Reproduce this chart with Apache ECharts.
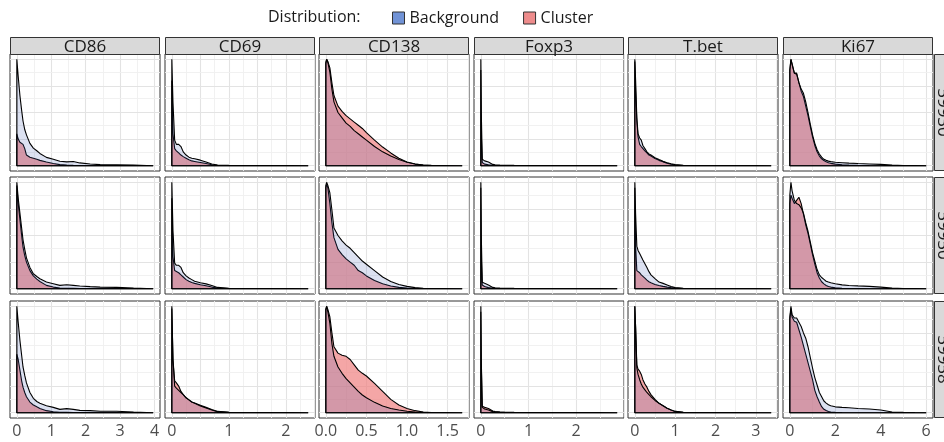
<!DOCTYPE html>
<html>
<head>
<meta charset="utf-8">
<script src="https://cdn.jsdelivr.net/npm/echarts@6/dist/echarts.min.js"></script>
<style>
  html, body { margin: 0; padding: 0; background: #ffffff; }
  #chart { width: 944px; height: 442px; }
</style>
</head>
<body>
<div id="chart"></div>
<script>
// Facet labels
const markers = ['CD86', 'CD69', 'CD138', 'Foxp3', 'T.bet', 'Ki67'];
const samples = ['59930', '59950', '59958'];

// ---- CD86: evaluation grid and scaled densities (one row per sample)
const xCD86 = [0, 0.04, 0.09, 0.14, 0.18, 0.23, 0.28, 0.38, 0.48, 0.58, 0.67, 0.86, 1.06, 1.25, 1.45, 1.64, 1.83, 2.13, 2.42, 2.9, 3.39, 3.96];
const bgCD86 = [
  [1.0, 0.84, 0.66, 0.52, 0.42, 0.34, 0.29, 0.21, 0.165, 0.14, 0.115, 0.078, 0.06, 0.042, 0.036, 0.04, 0.026, 0.016, 0.01, 0.008, 0.005, 0],
  [1.0, 0.85, 0.71, 0.57, 0.46, 0.37, 0.29, 0.2, 0.14, 0.115, 0.093, 0.062, 0.046, 0.031, 0.037, 0.031, 0.025, 0.019, 0.015, 0.012, 0.006, 0],
  [1.0, 0.85, 0.68, 0.54, 0.43, 0.35, 0.28, 0.19, 0.135, 0.105, 0.088, 0.066, 0.05, 0.031, 0.038, 0.031, 0.022, 0.019, 0.013, 0.013, 0.006, 0]
];
const clCD86 = [
  [0.3, 0.25, 0.22, 0.21, 0.2, 0.16, 0.1, 0.08, 0.07, 0.06, 0.05, 0.035, 0.02, 0.01, 0.005, 0.003, 0.002, 0.002, 0.001, 0.001, 0.0005, 0],
  [0.97, 0.8, 0.65, 0.5, 0.39, 0.31, 0.25, 0.17, 0.12, 0.09, 0.068, 0.031, 0.015, 0.006, 0.004, 0.003, 0.002, 0.002, 0.001, 0.001, 0.0005, 0],
  [0.55, 0.5, 0.4, 0.3, 0.24, 0.19, 0.15, 0.1, 0.072, 0.055, 0.04, 0.019, 0.008, 0.004, 0.003, 0.002, 0.002, 0.001, 0.001, 0.0005, 0, 0]
];

// ---- CD69
const xCD69 = [0, 0.02, 0.05, 0.08, 0.12, 0.16, 0.2, 0.25, 0.3, 0.35, 0.4, 0.5, 0.6, 0.7, 0.8, 1.0, 1.2, 1.5, 1.8, 2.1, 2.39];
const bgCD69 = [
  [1.0, 0.6, 0.24, 0.2, 0.2, 0.18, 0.13, 0.1, 0.08, 0.07, 0.065, 0.052, 0.035, 0.016, 0.007, 0.003, 0.002, 0.001, 0.001, 0.0005, 0],
  [1.0, 0.55, 0.24, 0.22, 0.22, 0.2, 0.15, 0.12, 0.1, 0.085, 0.07, 0.055, 0.045, 0.03, 0.012, 0.004, 0.002, 0.001, 0.001, 0.0005, 0],
  [1.0, 0.5, 0.25, 0.23, 0.21, 0.19, 0.17, 0.14, 0.12, 0.1, 0.088, 0.063, 0.045, 0.025, 0.01, 0.004, 0.002, 0.001, 0.001, 0.0005, 0]
];
const clCD69 = [
  [0.8, 0.3, 0.16, 0.14, 0.12, 0.1, 0.085, 0.07, 0.055, 0.045, 0.04, 0.03, 0.02, 0.008, 0.003, 0.001, 0, 0, 0, 0, 0],
  [0.85, 0.3, 0.17, 0.16, 0.15, 0.13, 0.11, 0.085, 0.07, 0.058, 0.05, 0.037, 0.027, 0.015, 0.006, 0.002, 0.001, 0, 0, 0, 0],
  [0.98, 0.5, 0.3, 0.28, 0.25, 0.2, 0.17, 0.14, 0.12, 0.1, 0.09, 0.07, 0.05, 0.03, 0.012, 0.004, 0.002, 0.001, 0, 0, 0]
];

// ---- CD138
const xCD138 = [0, 0.01, 0.025, 0.05, 0.075, 0.1, 0.15, 0.2, 0.25, 0.3, 0.35, 0.4, 0.45, 0.5, 0.6, 0.7, 0.8, 0.9, 1.0, 1.1, 1.2, 1.3, 1.45, 1.68];
const bgCD138 = [
  [0.97, 1.0, 0.97, 0.88, 0.72, 0.6, 0.5, 0.45, 0.4, 0.37, 0.33, 0.3, 0.27, 0.24, 0.18, 0.13, 0.09, 0.058, 0.033, 0.015, 0.007, 0.003, 0.001, 0],
  [0.97, 1.0, 0.97, 0.9, 0.74, 0.57, 0.5, 0.45, 0.41, 0.38, 0.34, 0.3, 0.26, 0.23, 0.17, 0.11, 0.068, 0.04, 0.022, 0.01, 0.004, 0.002, 0.001, 0],
  [0.97, 1.0, 0.95, 0.84, 0.65, 0.53, 0.43, 0.37, 0.32, 0.28, 0.24, 0.2, 0.166, 0.14, 0.097, 0.063, 0.04, 0.025, 0.013, 0.006, 0.003, 0.001, 0, 0]
];
const clCD138 = [
  [0.96, 1.0, 0.98, 0.92, 0.78, 0.66, 0.56, 0.51, 0.47, 0.44, 0.41, 0.38, 0.35, 0.31, 0.24, 0.175, 0.12, 0.07, 0.035, 0.015, 0.006, 0.002, 0.001, 0],
  [0.95, 0.98, 0.95, 0.8, 0.62, 0.48, 0.37, 0.32, 0.28, 0.25, 0.22, 0.17, 0.15, 0.12, 0.077, 0.046, 0.025, 0.012, 0.005, 0.002, 0.001, 0, 0, 0],
  [0.97, 1.0, 0.97, 0.9, 0.75, 0.62, 0.56, 0.54, 0.53, 0.5, 0.45, 0.4, 0.37, 0.345, 0.275, 0.2, 0.125, 0.072, 0.04, 0.019, 0.006, 0.002, 0.001, 0]
];

// ---- Foxp3
const xFoxp3 = [0, 0.01, 0.03, 0.05, 0.08, 0.12, 0.16, 0.2, 0.25, 0.3, 0.4, 0.5, 0.7, 1.0, 1.5, 2.0, 2.5, 2.86];
const bgFoxp3 = [
  [1.0, 0.5, 0.06, 0.045, 0.045, 0.042, 0.035, 0.02, 0.012, 0.008, 0.005, 0.004, 0.003, 0.002, 0.001, 0.001, 0.0005, 0],
  [1.0, 0.5, 0.06, 0.05, 0.05, 0.045, 0.035, 0.02, 0.012, 0.008, 0.005, 0.004, 0.003, 0.002, 0.001, 0.001, 0.0005, 0],
  [1.0, 0.5, 0.05, 0.035, 0.035, 0.03, 0.025, 0.015, 0.01, 0.007, 0.005, 0.004, 0.003, 0.002, 0.001, 0.001, 0.0005, 0]
];
const clFoxp3 = [
  [0.9, 0.3, 0.03, 0.02, 0.015, 0.01, 0.008, 0.005, 0.003, 0.002, 0.001, 0.001, 0, 0, 0, 0, 0, 0],
  [0.95, 0.3, 0.035, 0.025, 0.02, 0.015, 0.01, 0.006, 0.004, 0.003, 0.002, 0.001, 0.001, 0, 0, 0, 0, 0],
  [0.95, 0.45, 0.06, 0.05, 0.05, 0.045, 0.04, 0.025, 0.015, 0.01, 0.006, 0.004, 0.002, 0.001, 0.001, 0, 0, 0]
];

// ---- T.bet
const xTbet = [0, 0.02, 0.05, 0.08, 0.12, 0.16, 0.2, 0.25, 0.3, 0.35, 0.4, 0.5, 0.6, 0.7, 0.8, 0.9, 1.0, 1.2, 1.5, 2.0, 2.5, 3.0, 3.38];
const bgTbet = [
  [1.0, 0.8, 0.45, 0.3, 0.26, 0.24, 0.19, 0.16, 0.13, 0.11, 0.1, 0.075, 0.058, 0.042, 0.028, 0.018, 0.01, 0.003, 0.001, 0.001, 0.0005, 0.0003, 0],
  [1.0, 0.7, 0.4, 0.36, 0.33, 0.3, 0.27, 0.235, 0.2, 0.16, 0.13, 0.095, 0.062, 0.05, 0.035, 0.02, 0.01, 0.004, 0.002, 0.002, 0.001, 0.001, 0],
  [1.0, 0.8, 0.42, 0.36, 0.31, 0.27, 0.24, 0.215, 0.19, 0.17, 0.15, 0.115, 0.088, 0.065, 0.042, 0.025, 0.012, 0.004, 0.002, 0.001, 0.001, 0, 0]
];
const clTbet = [
  [0.98, 0.7, 0.42, 0.27, 0.2, 0.18, 0.17, 0.14, 0.12, 0.1, 0.09, 0.067, 0.05, 0.036, 0.024, 0.014, 0.007, 0.002, 0.001, 0, 0, 0, 0],
  [0.95, 0.4, 0.17, 0.16, 0.15, 0.13, 0.12, 0.1, 0.08, 0.065, 0.055, 0.04, 0.03, 0.022, 0.015, 0.01, 0.006, 0.002, 0.001, 0, 0, 0, 0],
  [1.0, 0.8, 0.45, 0.41, 0.39, 0.36, 0.31, 0.27, 0.24, 0.2, 0.17, 0.125, 0.088, 0.065, 0.042, 0.025, 0.012, 0.004, 0.002, 0.001, 0.001, 0, 0]
];

// ---- Ki67
const xKi67 = [0, 0.05, 0.1, 0.2, 0.3, 0.4, 0.5, 0.6, 0.7, 0.8, 0.9, 1.0, 1.1, 1.2, 1.3, 1.4, 1.5, 1.6, 1.7, 1.8, 2.0, 2.3, 2.6, 3.0, 3.5, 4.0, 4.5, 5.0, 5.5, 6.0];
const bgKi67 = [
  [0.9, 1.0, 0.95, 0.87, 0.86, 0.78, 0.72, 0.68, 0.6, 0.5, 0.39, 0.29, 0.21, 0.15, 0.11, 0.08, 0.06, 0.05, 0.043, 0.038, 0.032, 0.028, 0.024, 0.02, 0.016, 0.012, 0.005, 0.002, 0.001, 0],
  [0.88, 1.0, 0.92, 0.83, 0.8, 0.79, 0.76, 0.71, 0.62, 0.54, 0.44, 0.34, 0.26, 0.18, 0.13, 0.105, 0.088, 0.07, 0.062, 0.055, 0.046, 0.036, 0.03, 0.026, 0.022, 0.015, 0.005, 0.002, 0.001, 0],
  [0.9, 1.0, 0.92, 0.89, 0.89, 0.85, 0.81, 0.75, 0.7, 0.62, 0.52, 0.42, 0.33, 0.26, 0.19, 0.15, 0.11, 0.09, 0.075, 0.065, 0.055, 0.05, 0.046, 0.04, 0.035, 0.025, 0.006, 0.003, 0.001, 0]
];
const clKi67 = [
  [0.9, 1.0, 0.96, 0.87, 0.87, 0.78, 0.7, 0.65, 0.56, 0.47, 0.37, 0.27, 0.19, 0.13, 0.09, 0.065, 0.048, 0.036, 0.028, 0.022, 0.015, 0.009, 0.005, 0.003, 0.001, 0, 0, 0, 0, 0],
  [0.8, 0.88, 0.85, 0.8, 0.83, 0.86, 0.8, 0.7, 0.6, 0.52, 0.42, 0.32, 0.23, 0.15, 0.1, 0.065, 0.045, 0.03, 0.02, 0.015, 0.008, 0.004, 0.002, 0.001, 0, 0, 0, 0, 0, 0],
  [0.88, 0.98, 0.9, 0.86, 0.85, 0.78, 0.71, 0.63, 0.55, 0.47, 0.39, 0.31, 0.21, 0.15, 0.1, 0.056, 0.032, 0.02, 0.012, 0.006, 0.003, 0.001, 0, 0, 0, 0, 0, 0, 0, 0]
];

// ---- x-axis breaks (ticks) and labelled breaks per marker
const ticksCD86 = [0, 1, 2, 3, 4];       const labelsCD86 = [0, 1, 2, 3, 4];
const ticksCD69 = [0, 0.5, 1, 1.5, 2];   const labelsCD69 = [0, 1, 2];
const ticksCD138 = [0, 0.5, 1, 1.5];     const labelsCD138 = [0, 0.5, 1, 1.5];
const ticksFoxp3 = [0, 1, 2];            const labelsFoxp3 = [0, 1, 2];
const ticksTbet = [0, 1, 2, 3];          const labelsTbet = [0, 1, 2, 3];
const ticksKi67 = [0, 2, 4, 6];          const labelsKi67 = [0, 2, 4, 6];

const columns = [
  { x: xCD86,  bg: bgCD86,  cl: clCD86,  ticks: ticksCD86,  labels: labelsCD86,  minor: 0.5,  dec: 0 },
  { x: xCD69,  bg: bgCD69,  cl: clCD69,  ticks: ticksCD69,  labels: labelsCD69,  minor: 0.25, dec: 0 },
  { x: xCD138, bg: bgCD138, cl: clCD138, ticks: ticksCD138, labels: labelsCD138, minor: 0.25, dec: 1 },
  { x: xFoxp3, bg: bgFoxp3, cl: clFoxp3, ticks: ticksFoxp3, labels: labelsFoxp3, minor: 0.5,  dec: 0 },
  { x: xTbet,  bg: bgTbet,  cl: clTbet,  ticks: ticksTbet,  labels: labelsTbet,  minor: 0.5,  dec: 0 },
  { x: xKi67,  bg: bgKi67,  cl: clKi67,  ticks: ticksKi67,  labels: labelsKi67,  minor: 1,    dec: 0 }
];

// ---- layout
const FONT = "'Open Sans', sans-serif";
const PANEL_LEFT0 = 10, PANEL_STEP = 154.6, PANEL_W = 150;
const PANEL_TOPS = [54, 177, 301], PANEL_H = 117;
const STRIP_H = 17;

const FILL_BG = 'rgba(60, 88, 177, 0.18)';
const FILL_CL = 'rgba(240, 128, 128, 0.70)';

// closed outline: baseline, left edge, then the density curve
function outline(xs, ys) {
  const xEnd = xs[xs.length - 1];
  const pts = [[xEnd, 0], [0, 0]];
  for (let i = 0; i < xs.length; i++) pts.push([xs[i], ys[i]]);
  pts.push([xEnd, 0]);
  return pts;
}

const grids = [], xAxes = [], yAxes = [], series = [], graphics = [];

columns.forEach((col, c) => {
  const xMax = col.x[col.x.length - 1];
  const pad = xMax * 0.05;
  const left = Math.round(PANEL_LEFT0 + c * PANEL_STEP);

  // top strip
  graphics.push({
    type: 'rect', z: 10,
    shape: { x: left + 0.5, y: PANEL_TOPS[0] - STRIP_H + 0.5, width: PANEL_W - 1, height: STRIP_H },
    style: { fill: '#D9D9D9', stroke: '#333333', lineWidth: 1 }
  });
  graphics.push({
    type: 'text', z: 11, x: left + PANEL_W / 2, y: PANEL_TOPS[0] - STRIP_H / 2 + 1.5,
    style: { text: markers[c], font: '17px ' + FONT, fill: '#1A1A1A', align: 'center', verticalAlign: 'middle', textAlign: 'center', textVerticalAlign: 'middle' }
  });

  samples.forEach((s, r) => {
    const idx = grids.length;
    const top = PANEL_TOPS[r];
    grids.push({
      left: left, top: top, width: PANEL_W, height: PANEL_H,
      show: true, backgroundColor: '#ffffff', borderColor: '#333333', borderWidth: 1
    });
    const last = r === samples.length - 1;
    xAxes.push({
      type: 'value', gridIndex: idx, min: -pad, max: xMax + pad,
      splitLine: { show: false }, axisLine: { show: false },
      axisTick: { show: last, customValues: col.ticks, length: 4, lineStyle: { color: '#333333', width: 1 } },
      axisLabel: {
        show: last, customValues: col.labels, margin: 5,
        fontSize: 16, color: '#4D4D4D', fontFamily: FONT,
        formatter: v => Number(v).toFixed(col.dec)
      }
    });
    yAxes.push({ type: 'value', gridIndex: idx, min: -0.05, max: 1.05, show: false });

    // panel grid lines (major at breaks, minor in between)
    const lines = [];
    for (let v = 0; v <= xMax + pad + 1e-9; v += col.minor) {
      const vv = Math.round(v * 1000) / 1000;
      const major = col.ticks.some(t => Math.abs(t - vv) < 1e-6);
      lines.push({ xAxis: vv, lineStyle: { color: major ? '#E3E3E3' : '#EFEFEF', width: major ? 1.1 : 0.9, type: 'solid' } });
    }
    for (let k = 0; k <= 8; k++) {
      const v = k * 0.125;
      const major = k % 2 === 0;
      lines.push({ yAxis: v, lineStyle: { color: major ? '#E3E3E3' : '#EFEFEF', width: major ? 1.1 : 0.9, type: 'solid' } });
    }
    series.push({
      type: 'line', xAxisIndex: idx, yAxisIndex: idx, data: [[0, 0]],
      symbol: 'none', lineStyle: { opacity: 0 }, silent: true, z: 1, legendHoverLink: false,
      markLine: { silent: true, symbol: 'none', z: 1, label: { show: false }, emphasis: { disabled: true }, animation: false, data: lines }
    });

    // Cluster density first, Background density drawn over it
    series.push({
      type: 'line', name: 'Cluster', xAxisIndex: idx, yAxisIndex: idx,
      data: outline(col.x, col.cl[r]), symbol: 'none', smooth: false, z: 2,
      lineStyle: { color: '#000000', width: 1.1 },
      itemStyle: { color: '#EE8C8C' },
      areaStyle: { color: FILL_CL, opacity: 1, origin: 0 },
      emphasis: { disabled: true }
    });
    series.push({
      type: 'line', name: 'Background', xAxisIndex: idx, yAxisIndex: idx,
      data: outline(col.x, col.bg[r]), symbol: 'none', smooth: false, z: 3,
      lineStyle: { color: '#000000', width: 1.1 },
      itemStyle: { color: '#7193D6' },
      areaStyle: { color: FILL_BG, opacity: 1, origin: 0 },
      emphasis: { disabled: true }
    });

    // right-hand strip for the sample (only beside the last column)
    if (c === columns.length - 1) {
      const sx = left + PANEL_W + 1;
      graphics.push({
        type: 'rect', z: 10,
        shape: { x: sx + 0.5, y: top + 0.5, width: STRIP_H, height: PANEL_H - 1 },
        style: { fill: '#D9D9D9', stroke: '#333333', lineWidth: 1 }
      });
      graphics.push({
        type: 'text', z: 11, x: sx + STRIP_H / 2 + 0.5, y: top + PANEL_H / 2,
        rotation: -Math.PI / 2,
        style: { text: s, font: '17px ' + FONT, fill: '#1A1A1A', align: 'center', verticalAlign: 'middle', textAlign: 'center', textVerticalAlign: 'middle' }
      });
    }
  });
});

// legend title
graphics.push({
  type: 'text', z: 11, x: 268, y: 17,
  style: { text: 'Distribution:', font: '16px ' + FONT, fill: '#1A1A1A', align: 'left', verticalAlign: 'middle', textAlign: 'left', textVerticalAlign: 'middle' }
});

const chart = echarts.init(document.getElementById('chart'), null, { renderer: 'canvas' });
chart.setOption({
  animation: false,
  backgroundColor: '#ffffff',
  legend: {
    left: 392, top: 10, padding: 0, icon: 'rect', itemWidth: 12, itemHeight: 12, itemGap: 24,
    selectedMode: false,
    textStyle: { fontSize: 16, color: '#1A1A1A', fontFamily: FONT },
    data: [
      { name: 'Background', itemStyle: { color: '#7193D6', borderColor: '#333333', borderWidth: 1 } },
      { name: 'Cluster', itemStyle: { color: '#EE8C8C', borderColor: '#333333', borderWidth: 1 } }
    ]
  },
  grid: grids,
  xAxis: xAxes,
  yAxis: yAxes,
  series: series,
  graphic: { elements: graphics }
});
</script>
</body>
</html>
